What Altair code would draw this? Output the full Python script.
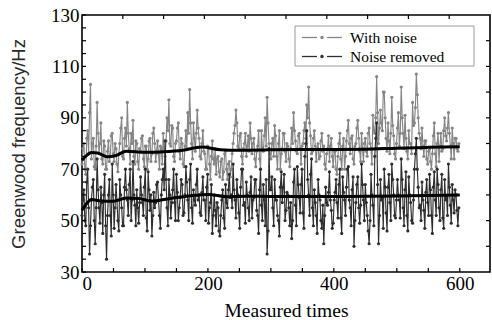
import altair as alt
import pandas as pd

# ---------------- data ----------------
x_step = 1.5  # one value every 1.5 measurements
with_noise = [
    72, 78, 80, 70, 68, 82, 85, 76, 92, 103, 74, 80, 82, 71, 70, 79, 96, 84, 76, 80,
    88, 74, 72, 81, 79, 70, 70, 77, 81, 73, 75, 83, 84, 76, 73, 80, 78, 72, 69, 76,
    80, 86, 90, 75, 74, 82, 86, 79, 96, 84, 78, 72, 84, 80, 89, 75, 72, 81, 80, 73,
    70, 78, 77, 82, 83, 74, 71, 79, 79, 70, 74, 81, 82, 73, 76, 84, 86, 80, 73, 77,
    81, 76, 70, 79, 78, 72, 84, 77, 75, 81, 90, 85, 97, 80, 79, 87, 86, 75, 73, 80,
    81, 86, 88, 77, 74, 82, 80, 72, 71, 79, 85, 78, 92, 84, 101, 88, 80, 74, 88, 82,
    77, 84, 93, 86, 82, 75, 74, 80, 85, 77, 76, 70, 70, 79, 78, 72, 66, 75, 81, 74,
    72, 78, 68, 74, 75, 69, 67, 73, 74, 66, 69, 76, 77, 70, 66, 72, 73, 67, 70, 76,
    80, 84, 87, 93, 88, 79, 78, 83, 84, 75, 72, 78, 80, 84, 75, 79, 83, 77, 88, 82,
    76, 80, 82, 74, 71, 77, 79, 85, 74, 70, 85, 78, 77, 83, 90, 79, 98, 88, 80, 76,
    74, 80, 82, 75, 87, 83, 75, 70, 80, 85, 70, 76, 78, 84, 84, 77, 73, 80, 79, 74,
    71, 78, 86, 80, 92, 85, 81, 77, 76, 83, 84, 78, 72, 79, 80, 85, 88, 82, 95, 90,
    102, 88, 83, 76, 77, 82, 85, 79, 73, 78, 80, 74, 75, 81, 84, 77, 79, 72, 70, 76,
    78, 83, 73, 79, 82, 75, 71, 77, 77, 70, 68, 75, 80, 84, 74, 70, 79, 82, 70, 75,
    81, 85, 89, 80, 76, 82, 83, 74, 72, 79, 80, 86, 89, 82, 77, 73, 84, 78, 73, 80,
    82, 77, 75, 84, 86, 80, 78, 72, 91, 85, 84, 90, 106, 92, 80, 86, 93, 88, 85, 100,
    100, 90, 82, 77, 88, 81, 76, 84, 98, 87, 83, 76, 74, 80, 86, 92, 79, 84, 102, 90,
    84, 78, 91, 82, 77, 74, 85, 80, 80, 76, 96, 87, 88, 94, 107, 99, 90, 84, 82, 78,
    86, 79, 75, 81, 81, 74, 72, 77, 78, 73, 70, 76, 83, 88, 76, 71, 80, 84, 73, 79,
    84, 77, 78, 85, 90, 83, 81, 86, 92, 84, 79, 74, 86, 80, 74, 82, 82, 78, 77, 80,
]
noise_removed = [
    52, 58, 62, 50, 48, 65, 70, 55, 37, 48, 58, 63, 66, 50, 41, 55, 74, 62, 55, 49,
    63, 57, 45, 60, 68, 48, 35, 52, 60, 66, 52, 44, 72, 60, 47, 55, 64, 58, 50, 46,
    66, 60, 55, 48, 48, 63, 70, 62, 58, 52, 64, 70, 50, 58, 73, 60, 56, 48, 62, 55,
    49, 57, 67, 60, 57, 52, 63, 70, 51, 46, 69, 62, 54, 60, 44, 52, 61, 55, 57, 64,
    65, 58, 52, 47, 60, 66, 70, 62, 81, 66, 55, 48, 66, 60, 51, 57, 62, 70, 57, 50,
    68, 61, 50, 55, 59, 66, 64, 52, 53, 60, 71, 65, 58, 50, 66, 72, 55, 49, 62, 58,
    56, 64, 70, 58, 60, 53, 52, 61, 67, 58, 58, 50, 63, 68, 49, 55, 57, 64, 45, 52,
    60, 54, 48, 57, 55, 46, 44, 52, 58, 62, 51, 47, 64, 57, 55, 62, 68, 59, 60, 55,
    72, 62, 58, 51, 66, 60, 53, 47, 63, 70, 70, 56, 57, 49, 65, 60, 55, 50, 61, 67,
    51, 58, 59, 66, 66, 54, 52, 45, 62, 70, 56, 50, 64, 58, 48, 66, 37, 46, 78, 62,
    62, 67, 55, 48, 66, 58, 58, 52, 50, 44, 63, 69, 57, 63, 68, 50, 54, 61, 60, 55,
    48, 57, 43, 50, 65, 70, 56, 48, 71, 64, 59, 53, 64, 70, 53, 47, 75, 80, 85, 66,
    60, 52, 68, 74, 55, 48, 62, 57, 52, 45, 66, 60, 58, 50, 47, 56, 41, 52, 63, 57,
    56, 61, 69, 58, 54, 47, 49, 58, 61, 66, 57, 51, 64, 70, 51, 45, 67, 61, 58, 52,
    63, 70, 71, 58, 55, 48, 62, 67, 40, 50, 57, 64, 67, 55, 49, 56, 72, 64, 58, 50,
    64, 57, 52, 46, 41, 50, 68, 60, 56, 48, 75, 82, 88, 64, 41, 52, 66, 58, 59, 47,
    70, 63, 53, 46, 63, 68, 57, 50, 72, 66, 60, 52, 51, 58, 66, 60, 58, 51, 74, 66,
    55, 48, 62, 69, 52, 46, 67, 60, 57, 50, 49, 58, 70, 76, 82, 70, 63, 55, 56, 50,
    65, 58, 54, 47, 61, 66, 57, 52, 68, 62, 52, 45, 63, 69, 58, 52, 70, 64, 55, 50,
    62, 68, 51, 47, 66, 58, 59, 52, 72, 63, 56, 49, 64, 58, 53, 62, 60, 54, 48, 55,
]
trend_up_x = [0, 8, 15, 25, 40, 55, 70, 100, 130, 160, 190, 220, 250, 300, 350, 400, 450, 500, 550, 600]
trend_up_y = [73.5, 75.5, 76.5, 76.3, 74.8, 75.4, 77.0, 76.6, 76.8, 77.4, 78.6, 77.6, 77.4, 77.6, 77.7, 77.7, 77.8, 78.2, 78.5, 78.7]
trend_low_x = [0, 8, 15, 30, 50, 70, 90, 110, 140, 170, 200, 230, 260, 300, 400, 500, 600]
trend_low_y = [54.0, 56.8, 58.2, 57.6, 57.5, 58.8, 58.6, 57.6, 58.6, 59.6, 60.2, 59.3, 59.5, 59.4, 59.4, 59.6, 60.0]

x_labels = [0, 200, 400, 600]
x_minor = [0, 50, 100, 150, 200, 250, 300, 350, 400, 450, 500, 550, 600]
y_labels = [30, 50, 70, 90, 110, 130]
y_minor = list(range(30, 131, 5))
top_ticks = [64.8, 129.6, 194.4, 259.2, 324.0, 388.8, 453.6, 518.4, 583.2]
right_ticks = list(range(40, 130, 10))

series_names = ["With noise", "Noise removed"]
series_colors = ["#858585", "#2e2e2e"]

# ---------------- layout ----------------
W, H = 408, 257
X_DOMAIN = [0, 648]
Y_DOMAIN = [30, 130]
SERIF = "Liberation Serif, serif"
SANS = "Liberation Sans"

df_noise = pd.DataFrame({"t": [i * x_step for i in range(len(with_noise))], "f": with_noise})
df_clean = pd.DataFrame({"t": [i * x_step for i in range(len(noise_removed))], "f": noise_removed})
df_up = pd.DataFrame({"t": trend_up_x, "f": trend_up_y})
df_low = pd.DataFrame({"t": trend_low_x, "f": trend_low_y})

xs = alt.Scale(domain=X_DOMAIN, nice=False, zero=False)
ys = alt.Scale(domain=Y_DOMAIN, nice=False, zero=False)

x_axis = alt.Axis(
    values=x_labels, tickSize=0, domain=False, grid=False,
    labelFont=SERIF, labelFontSize=19, labelColor="black", labelPadding=2,
    title="Measured times", titleFont=SERIF, titleFontSize=19.5, titleFontWeight="normal",
    titleColor="black", titleBaseline="middle", titleY=38,
)
y_axis = alt.Axis(
    values=y_labels, tickSize=0, domain=False, grid=False,
    labelFont=SERIF, labelFontSize=19, labelColor="black", labelPadding=3,
    title="Greenwood frequency/Hz", titleFont=SANS, titleFontSize=18.5,
    titleFontWeight="normal", titleColor="#2a2a2a", titleAngle=270,
    titleAlign="center", titleBaseline="middle", titleX=-64, titleY=H / 2,
)


def X(field):
    return alt.X(field, scale=xs, axis=x_axis)


def Y(field):
    return alt.Y(field, scale=ys, axis=y_axis)


def series(df, color):
    return alt.Chart(df).mark_line(
        color=color, strokeWidth=1.15,
        point=alt.OverlayMarkDef(filled=True, color=color, size=10, opacity=1),
    ).encode(x=X("t:Q"), y=Y("f:Q"))


def trend(df):
    return alt.Chart(df).mark_line(color="black", strokeWidth=3, interpolate="monotone").encode(
        x=X("t:Q"), y=Y("f:Q"))


def xticks(vals, at_bottom, length):
    d = pd.DataFrame({"v": vals})
    if at_bottom:
        yy, yy2 = alt.value(H), alt.value(H - length)
    else:
        yy, yy2 = alt.value(0), alt.value(length)
    return alt.Chart(d).mark_rule(color="black", strokeWidth=1.2).encode(
        x=X("v:Q"), y=yy, y2=yy2)


def yticks(vals, at_left, length):
    d = pd.DataFrame({"v": vals})
    if at_left:
        xx, xx2 = alt.value(0), alt.value(length)
    else:
        xx, xx2 = alt.value(W), alt.value(W - length)
    return alt.Chart(d).mark_rule(color="black", strokeWidth=1.2).encode(
        y=Y("v:Q"), x=xx, x2=xx2)


# manual legend (box, line-dot-line symbols and labels)
legend_box = alt.Chart(pd.DataFrame({"k": [0]})).mark_rect(
    fill="white", stroke="#9a9a9a", strokeWidth=1
).encode(x=alt.value(213), x2=alt.value(392), y=alt.value(11), y2=alt.value(51))

legend_layers = [legend_box]
for i, (name, col) in enumerate(zip(series_names, series_colors)):
    yy = 22.5 + 19 * i
    one = pd.DataFrame({"label": [name]})
    legend_layers.append(alt.Chart(one).mark_rule(color=col, strokeWidth=1.3).encode(
        x=alt.value(220), x2=alt.value(235), y=alt.value(yy)))
    legend_layers.append(alt.Chart(one).mark_rule(color=col, strokeWidth=1.3).encode(
        x=alt.value(245), x2=alt.value(260), y=alt.value(yy)))
    legend_layers.append(alt.Chart(one).mark_point(filled=True, color=col, size=12, opacity=1).encode(
        x=alt.value(240), y=alt.value(yy)))
    legend_layers.append(alt.Chart(one).mark_text(
        font=SERIF, fontSize=15.5, color="black", align="left", baseline="middle"
    ).encode(x=alt.value(268), y=alt.value(yy), text="label:N"))

chart = alt.layer(
    series(df_noise, series_colors[0]),
    series(df_clean, series_colors[1]),
    trend(df_up),
    trend(df_low),
    xticks(x_minor, True, 4),
    xticks(top_ticks, False, 4),
    yticks(y_minor, True, 4),
    yticks(right_ticks, False, 4),
    *legend_layers,
).properties(
    width=W, height=H,
    autosize=alt.AutoSizeParams(type="none"),
    padding={"left": 82, "top": 15, "right": 2, "bottom": 48},
    background="white",
).configure_view(stroke="black", strokeWidth=1.6)

chart.save("out.html", embed_options={"renderer": "svg", "actions": False})
